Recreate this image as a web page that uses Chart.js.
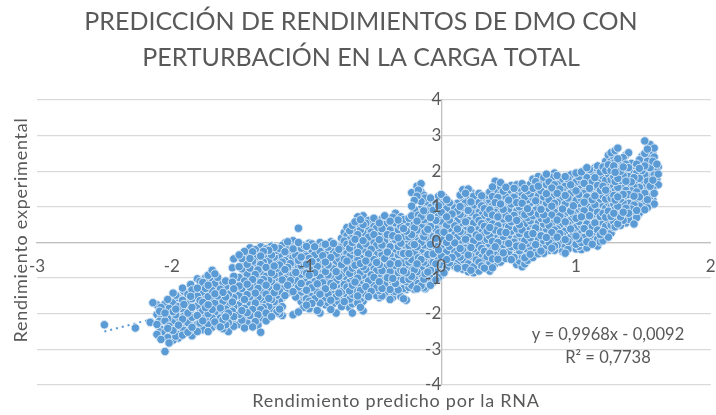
<!DOCTYPE html>
<html>
<head>
  <title>Predicción de rendimientos</title>
  <script src="https://cdn.jsdelivr.net/npm/chart.js"></script>
  <style>
    body { margin: 0; background: #fff; }
  </style>
</head>
<body>
  <canvas id="scatterChart" width="716" height="415"></canvas>

  <script>
    // Values, one x column with its y values
    const predictedX = [
      -2.5,-2.27,-2.16,-2.14,-2.11,-2.08,-2.05,-2.02,-1.99,-1.95,-1.92,-1.88,-1.85,-1.81,-1.77,-1.73,-1.7,-1.66,
      -1.62,-1.58,-1.54,-1.5,-1.46,-1.42,-1.38,-1.34,-1.3,-1.26,-1.22,-1.18,-1.14,-1.1,-1.06,-1.02,-0.98,-0.94,
      -0.9,-0.86,-0.82,-0.78,-0.74,-0.7,-0.66,-0.62,-0.58,-0.54,-0.5,-0.46,-0.42,-0.38,-0.34,-0.3,-0.26,-0.22,
      -0.18,-0.15,-0.12,-0.08,-0.04,0,0.04,0.08,0.12,0.16,0.2,0.24,0.28,0.32,0.36,0.4,0.44,0.48,0.52,0.56,0.6,
      0.64,0.68,0.72,0.76,0.8,0.84,0.88,0.92,0.96,1,1.04,1.08,1.12,1.16,1.2,1.24,1.28,1.31,1.35,1.39,1.43,1.47,
      1.51,1.55,1.58,1.61
    ];
    const experimentalY = [
      [-2.31],[-2.4],[-2.24],[-1.69],
      [-1.75,-2.02,-2.3,-2.58],
      [-1.82,-2.12,-2.44,-2.72],
      [-1.72,-1.98,-2.2,-2.52,-3.06],
      [-1.85,-2.06,-2.35,-2.62,-2.82],
      [-1.42,-1.68,-1.94,-2.2,-2.47,-2.74],
      [-1.55,-1.8,-2.1,-2.32,-2.58,-2.68],
      [-1.28,-1.62,-1.86,-2.15,-2.42,-2.6],
      [-1.45,-1.7,-1.98,-2.25,-2.52],
      [-1.33,-1.58,-1.82,-2.1,-2.38,-2.62],
      [-1.02,-1.28,-1.5,-1.78,-2.05,-2.3,-2.5],
      [-1.12,-1.42,-1.68,-1.92,-2.2,-2.45],
      [-0.92,-1.2,-1.52,-1.75,-2,-2.28,-2.5],
      [-0.78,-1.05,-1.35,-1.6,-1.88,-2.12,-2.38],
      [-0.98,-1.25,-1.5,-1.78,-2.03,-2.32],
      [-1.12,-1.4,-1.65,-1.9,-2.17,-2.42],
      [-1.18,-1.45,-1.72,-1.98,-2.25,-2.5],
      [-0.46,-0.95,-1.3,-1.55,-1.8,-2.08,-2.35],
      [-0.35,-0.68,-0.98,-1.22,-1.48,-1.75,-2.02,-2.3],
      [-0.25,-0.55,-0.8,-1.08,-1.35,-1.6,-1.85,-2.12,-2.4],
      [-0.15,-0.45,-0.72,-0.98,-1.25,-1.52,-1.78,-2.05,-2.3],
      [-0.2,-0.42,-0.68,-0.9,-1.15,-1.42,-1.7,-1.95,-2.22],
      [-0.12,-0.38,-0.62,-0.88,-1.12,-1.38,-1.62,-1.88,-2.12,-2.52],
      [-0.18,-0.45,-0.7,-0.95,-1.2,-1.45,-1.72,-1.98,-2.2],
      [-0.1,-0.35,-0.6,-0.85,-1.1,-1.35,-1.6,-1.85,-2.08],
      [-0.22,-0.48,-0.72,-0.98,-1.25,-1.48,-1.72,-1.95],
      [-0.08,-0.3,-0.55,-0.8,-1.05,-1.3,-1.55,-1.8,-2.05],
      [0.02,-0.2,-0.45,-0.7,-0.92,-1.2,-1.42],
      [0.05,-0.18,-0.42,-0.65,-0.9,-1.12,-1.38,-2.03],
      [0.4,0,-0.25,-0.5,-0.72,-0.98,-1.25,-1.48,-1.95],
      [-0.08,-0.32,-0.58,-0.8,-1.05,-1.3,-1.55,-1.82],
      [-0.02,-0.22,-0.45,-0.7,-0.92,-1.18,-1.42,-1.65,-1.86],
      [-0.12,-0.35,-0.62,-0.85,-1.1,-1.32,-1.58],
      [0,-0.25,-0.48,-0.72,-0.98,-1.22,-1.45,-1.7,-1.98],
      [-0.05,-0.32,-0.55,-0.82,-1.05,-1.3,-1.55,-1.75],
      [0.02,-0.18,-0.42,-0.68,-0.9,-1.15,-1.4,-1.62,-1.88],
      [-0.1,-0.32,-0.58,-0.82,-1.08,-1.3,-1.52,-1.98],
      [0.12,-0.12,-0.38,-0.62,-0.88,-1.12,-1.38,-1.6,-1.8],
      [0.42,0.2,-0.05,-0.3,-0.52,-0.78,-1,-1.25,-1.5,-1.75],
      [0.48,0.25,0,-0.22,-0.48,-0.72,-0.95,-1.2,-1.45,-1.72,-1.98],
      [0.72,0.45,0.22,-0.02,-0.28,-0.5,-0.78,-1,-1.25,-1.5,-1.7],
      [0.75,0.5,0.28,0.05,-0.2,-0.45,-0.68,-0.92,-1.18,-1.42,-1.65,-1.92],
      [0.62,0.38,0.15,-0.1,-0.32,-0.58,-0.82,-1.08,-1.3,-1.52],
      [0.68,0.45,0.22,0,-0.25,-0.48,-0.72,-0.98,-1.2,-1.42],
      [0.55,0.3,0.08,-0.15,-0.4,-0.62,-0.88,-1.1,-1.35,-1.55],
      [0.75,0.5,0.28,0.05,-0.22,-0.45,-0.7,-0.95,-1.18,-1.42],
      [0.6,0.35,0.12,-0.12,-0.35,-0.6,-0.82,-1.08,-1.32,-1.6],
      [0.82,0.55,0.3,0.08,-0.18,-0.42,-0.65,-0.9,-1.15,-1.38],
      [0.72,0.45,0.2,-0.02,-0.28,-0.52,-0.78,-1.02,-1.28,-1.52],
      [0.55,0.32,0.1,-0.15,-0.38,-0.62,-0.85,-1.1,-1.32,-1.62],
      [1.4,1.02,0.75,0.48,0.22,0,-0.22,-0.48,-0.72,-0.95,-1.2],
      [1.58,1.3,0.85,0.6,0.35,0.12,-0.12,-0.35,-0.6,-0.82,-1.08,-1.3],
      [1.65,1.42,1.15,0.95,0.72,0.48,0.25,0,-0.25,-0.48,-0.72,-0.95,-1.22],
      [1.25,1.02,0.8,0.55,0.3,0.08,-0.15,-0.4,-0.62,-0.88,-1.1,-1.3],
      [1.25,0.98,0.7,0.45,0.2,-0.05,-0.28,-0.52,-0.78,-1,-1.2],
      [1.1,0.88,0.62,0.38,0.12,-0.1,-0.35,-0.6,-0.82,-1.05],
      [1.35,1.1,0.85,0.6,0.35,0.1,-0.12,-0.38,-0.62,-0.92],
      [1.2,0.95,0.72,0.48,0.22,0,-0.25,-0.48,-0.7],
      [1.05,0.8,0.55,0.3,0.08,-0.18,-0.42,-0.62],
      [1.1,0.88,0.62,0.38,0.15,-0.1,-0.32,-0.58,-0.72],
      [1.48,1.25,0.98,0.72,0.48,0.25,0,-0.22,-0.48,-0.75],
      [1.5,1.22,0.9,0.62,0.4,0.15,-0.1,-0.35,-0.6,-0.82],
      [1.3,1.05,0.8,0.55,0.3,0.05,-0.18,-0.42,-0.68,-0.85],
      [1.38,1.12,0.85,0.62,0.38,0.15,-0.08,-0.32,-0.55,-0.8],
      [1.22,0.95,0.7,0.45,0.22,-0.02,-0.25,-0.5,-0.72],
      [1.42,1.18,0.92,0.68,0.42,0.18,-0.05,-0.3,-0.55,-0.8],
      [1.72,1.4,1.12,0.85,0.6,0.35,0.12,-0.12,-0.35,-0.6],
      [1.68,1.35,1.08,0.8,0.55,0.3,0.08,-0.15,-0.38,-0.55],
      [1.55,1.28,1.02,0.75,0.5,0.28,0.02,-0.22,-0.45],
      [1.6,1.32,1.08,0.82,0.58,0.32,0.1,-0.12,-0.35,-0.48],
      [1.62,1.38,1.12,0.88,0.62,0.38,0.12,-0.1,-0.35,-0.62],
      [1.65,1.38,1.1,0.85,0.6,0.35,0.12,-0.12,-0.38,-0.68],
      [1.45,1.2,0.95,0.7,0.45,0.22,-0.02,-0.25,-0.5],
      [1.78,1.52,1.25,1,0.75,0.5,0.25,0.02,-0.22,-0.42],
      [1.85,1.58,1.3,1.05,0.8,0.55,0.3,0.08,-0.15,-0.32],
      [1.82,1.55,1.28,1.02,0.78,0.52,0.28,0.05,-0.18,-0.3],
      [1.7,1.45,1.2,0.95,0.7,0.48,0.22,0,-0.22],
      [1.95,1.62,1.35,1.1,0.85,0.6,0.35,0.12,-0.1,-0.22],
      [1.75,1.5,1.25,1,0.75,0.5,0.25,0.05,-0.18],
      [1.85,1.58,1.32,1.08,0.82,0.58,0.32,0.08,-0.3],
      [1.9,1.62,1.38,1.12,0.88,0.62,0.38,0.15,-0.08],
      [1.95,1.7,1.45,1.18,0.92,0.68,0.42,0.18,-0.05,-0.18],
      [1.98,1.72,1.48,1.22,0.98,0.72,0.48,0.25,0,-0.2],
      [2.1,1.82,1.55,1.28,1.02,0.78,0.52,0.28,0.02,-0.15],
      [1.95,1.7,1.45,1.2,0.95,0.7,0.45,0.2,-0.05],
      [2.15,1.88,1.6,1.35,1.1,0.85,0.6,0.35,0.1,-0.1],
      [2.12,1.85,1.58,1.3,1.05,0.82,0.55,0.3,0.05],
      [2.45,2.18,1.92,1.65,1.38,1.12,0.88,0.62,0.38,0.15],
      [2.4,2.15,1.85,1.6,1.32,1.08,0.82,0.58,0.42],
      [2.65,2.35,2.05,1.8,1.55,1.28,1.02,0.78,0.52],
      [2.38,2.12,1.88,1.62,1.35,1.1,0.85,0.62],
      [2.52,2.1,1.85,1.6,1.35,1.1,0.82,0.65],
      [2.05,1.82,1.55,1.3,1.05,0.8,0.52],
      [2.32,2.08,1.8,1.55,1.28,1.02,0.82],
      [2.85,2.5,2.15,1.9,1.62,1.38,1.12,0.92],
      [2.75,2.45,2.1,1.85,1.58,1.3,1.05],
      [2.65,2.4,2.15,1.9,1.62,1.38,1.08],
      [2.12,1.92,1.62]
    ];
    // Second pass of the cloud, the points lying between the columns above
    const predictedX2 = [
      -2.09,-2.03,-1.97,-1.91,-1.86,-1.79,-1.75,-1.68,-1.64,-1.6,-1.55,-1.48,-1.44,-1.4,-1.36,-1.32,-1.28,-1.24,
      -1.2,-1.16,-1.12,-1.08,-1.04,-1,-0.96,-0.92,-0.88,-0.84,-0.8,-0.76,-0.72,-0.68,-0.64,-0.6,-0.56,-0.52,-0.48,
      -0.44,-0.4,-0.36,-0.32,-0.28,-0.24,-0.2,-0.17,-0.13,-0.1,-0.06,-0.02,0.02,0.06,0.1,0.14,0.18,0.22,0.26,0.3,
      0.34,0.38,0.42,0.46,0.5,0.54,0.58,0.62,0.66,0.7,0.74,0.78,0.82,0.86,0.9,0.94,0.98,1.02,1.06,1.1,1.14,1.18,
      1.22,1.26,1.29,1.33,1.37,1.41,1.45,1.49,1.53,1.57,1.6
    ];
    const experimentalY2 = [
      [-1.93,-2.21,-2.51],
      [-1.6,-2.14,-2.41,-2.67],
      [-1.48,-1.87,-2.03,-2.36,-2.63],
      [-1.37,-1.74,-2.07,-2.29,-2.47],
      [-1.18,-1.51,-1.89,-2.16,-2.44],
      [-1.09,-1.37,-1.63,-1.97,-2.26,-2.41],
      [-0.99,-1.29,-1.59,-1.83,-2.11,-2.37],
      [-0.88,-1.16,-1.44,-1.71,-1.96,-2.23],
      [-1.31,-1.58,-1.84,-2.12,-2.37],
      [-1.08,-1.24,-1.53,-1.87,-2.09,-2.31],
      [-0.71,-1.11,-1.39,-1.67,-1.93,-2.17],
      [-0.45,-0.74,-1.13,-1.29,-1.56,-1.91,-2.18],
      [-0.31,-0.61,-0.89,-1.17,-1.46,-1.69,-1.97,-2.26],
      [-0.26,-0.53,-0.79,-1.04,-1.33,-1.61,-1.88,-2.13,-2.37],
      [-0.31,-0.51,-0.77,-1.01,-1.29,-1.54,-1.79,-2.03,-2.32],
      [-0.25,-0.55,-0.81,-1.04,-1.28,-1.53,-1.83,-2.07],
      [-0.22,-0.52,-0.76,-1.06,-1.27,-1.57,-1.79,-2.11],
      [-0.14,-0.41,-0.66,-0.91,-1.17,-1.41,-1.66,-1.89],
      [-0.17,-0.37,-0.63,-0.88,-1.14,-1.37,-1.61,-1.87,-2],
      [-0.01,-0.26,-0.51,-0.76,-1.02,-1.25,-1.49],
      [-0.11,-0.34,-0.59,-0.83,-1.07,-1.31],
      [-0.08,-0.36,-0.58,-0.84,-1.06,-1.31,-1.53],
      [-0.16,-0.41,-0.65,-0.89,-1.15,-1.39,-1.66],
      [-0.11,-0.38,-0.61,-0.86,-1.11,-1.34,-1.58,-1.76],
      [-0.04,-0.29,-0.54,-0.77,-1.03,-1.27,-1.51,-1.71],
      [-0.17,-0.42,-0.67,-0.93,-1.16,-1.39,-1.62,-1.91],
      [-0.09,-0.37,-0.61,-0.86,-1.13,-1.37,-1.6],
      [-0.13,-0.38,-0.63,-0.91,-1.19,-1.45,-1.69],
      [-0.03,-0.26,-0.49,-0.74,-0.97,-1.22,-1.46,-1.71],
      [-0.19,-0.45,-0.71,-0.95,-1.19,-1.42,-1.67],
      [0.28,0.04,-0.21,-0.47,-0.7,-0.94,-1.18,-1.43,-1.66],
      [0.33,0.08,-0.16,-0.39,-0.63,-0.87,-1.11,-1.36,-1.59,-1.83],
      [0.58,0.31,0.09,-0.14,-0.37,-0.64,-0.86,-1.11,-1.34,-1.61],
      [0.64,0.35,0.13,-0.11,-0.36,-0.59,-0.84,-1.08,-1.35,-1.59,-1.82],
      [0.54,0.21,-0.04,-0.27,-0.52,-0.76,-1.01,-1.24,-1.48],
      [0.56,0.29,0.06,-0.19,-0.41,-0.67,-0.91,-1.14,-1.37],
      [0.41,0.17,-0.08,-0.31,-0.56,-0.79,-1.03,-1.27,-1.49],
      [0.66,0.39,0.16,-0.07,-0.33,-0.54,-0.79,-1.04,-1.29,-1.5],
      [0.46,0.22,-0.03,-0.27,-0.5,-0.74,-0.99,-1.25,-1.47],
      [0.71,0.44,0.19,-0.04,-0.29,-0.53,-0.77,-1.01,-1.24,-1.54],
      [0.63,0.36,0.13,-0.11,-0.34,-0.59,-0.84,-1.08,-1.33],
      [0.64,0.39,0.16,-0.07,-0.31,-0.57,-0.8,-1.05,-1.29,-1.58],
      [0.68,0.41,0.16,-0.09,-0.31,-0.55,-0.79,-1.03,-1.26],
      [1.18,0.93,0.66,0.41,0.18,-0.06,-0.29,-0.54,-0.77,-1.01,-1.31],
      [1.47,1.21,0.77,0.53,0.29,0.04,-0.19,-0.43,-0.66,-0.9,-1.15],
      [1.33,0.89,0.64,0.39,0.16,-0.07,-0.31,-0.55,-0.79,-1.03,-1.27],
      [1.13,0.88,0.63,0.37,0.14,-0.09,-0.34,-0.59,-0.83,-1.06],
      [1.17,0.91,0.66,0.41,0.16,-0.08,-0.32,-0.56,-0.81,-1.12],
      [1.3,1.03,0.77,0.52,0.27,0.03,-0.21,-0.45,-0.71,-0.98],
      [1.28,1.02,0.78,0.53,0.29,0.04,-0.19,-0.44,-0.67,-0.85],
      [1.12,0.87,0.63,0.39,0.14,-0.11,-0.34,-0.57],
      [0.97,0.72,0.47,0.23,-0.01,-0.26,-0.49,-0.67],
      [1.33,1.01,0.79,0.54,0.31,0.07,-0.17,-0.41,-0.66],
      [1.38,1.11,0.84,0.58,0.33,0.09,-0.16,-0.41,-0.7],
      [1.41,1.14,0.85,0.59,0.36,0.11,-0.14,-0.38,-0.63,-0.78],
      [1.21,0.96,0.71,0.47,0.21,-0.02,-0.25,-0.49,-0.75],
      [1.31,1.03,0.78,0.53,0.29,0.06,-0.17,-0.41,-0.66],
      [1.33,1.08,0.82,0.56,0.32,0.09,-0.15,-0.4,-0.64],
      [1.56,1.29,1.03,0.77,0.52,0.27,0.03,-0.21,-0.46,-0.71],
      [1.52,1.26,0.98,0.72,0.47,0.23,0,-0.24,-0.47],
      [1.44,1.17,0.93,0.66,0.41,0.17,-0.06,-0.29,-0.42],
      [1.47,1.19,0.93,0.68,0.44,0.2,-0.03,-0.26],
      [1.52,1.27,1.01,0.76,0.51,0.25,0.01,-0.22,-0.42],
      [1.53,1.25,1,0.75,0.5,0.25,0.01,-0.23,-0.52],
      [1.52,1.28,1.03,0.78,0.53,0.29,0.05,-0.18,-0.43,-0.6],
      [1.63,1.37,1.11,0.85,0.61,0.37,0.13,-0.11,-0.33],
      [1.71,1.44,1.17,0.91,0.66,0.41,0.18,-0.06,-0.27],
      [1.72,1.45,1.19,0.93,0.68,0.43,0.19,-0.03,-0.24],
      [1.92,1.63,1.37,1.11,0.87,0.63,0.38,0.14,-0.09],
      [1.83,1.53,1.27,1.02,0.77,0.53,0.28,0.05,-0.16],
      [1.88,1.63,1.38,1.13,0.88,0.63,0.38,0.15,-0.08],
      [1.68,1.45,1.19,0.94,0.69,0.44,0.2,-0.04,-0.25],
      [1.78,1.51,1.25,1,0.75,0.51,0.26,0.03,-0.19],
      [1.8,1.54,1.28,1.03,0.78,0.53,0.28,0.06,-0.13],
      [1.85,1.6,1.35,1.09,0.84,0.59,0.35,0.1,-0.11],
      [2,1.66,1.38,1.13,0.89,0.64,0.39,0.14,-0.08],
      [2.05,1.77,1.52,1.26,1,0.75,0.5,0.26,0.03],
      [2.1,1.82,1.57,1.31,1.06,0.8,0.55,0.3,0.06],
      [1.98,1.72,1.46,1.22,0.97,0.73,0.47,0.22,0.02],
      [2.28,2.02,1.75,1.47,1.22,0.96,0.71,0.46,0.21],
      [2.52,2.28,2.02,1.76,1.5,1.24,1,0.73,0.49,0.26],
      [2.58,2.26,1.97,1.71,1.45,1.19,0.93,0.68,0.44],
      [2.28,2,1.74,1.48,1.22,0.97,0.72,0.48],
      [2.45,2.2,1.96,1.72,1.46,1.2,0.96,0.72,0.55],
      [2.22,1.95,1.7,1.45,1.2,0.94,0.66],
      [2.2,1.95,1.68,1.42,1.17,0.9,0.7],
      [2.42,2.02,1.76,1.5,1.25,1],
      [2.62,2.28,2,1.72,1.46,1.2,0.98],
      [2.55,2.28,2.02,1.75,1.5,1.2],
      [2.2,2,1.78]
    ];
    // Dotted trendline ends
    const trendX = [-2.5, 1.63];
    const trendY = [-2.5, 1.62];

    const titleLines = ['PREDICCIÓN DE RENDIMIENTOS DE DMO CON', 'PERTURBACIÓN EN LA CARGA TOTAL'];
    const xAxisLabel = 'Rendimiento predicho por la RNA';
    const yAxisLabel = 'Rendimiento experimental';
    const equationLines = ['y = 0,9968x - 0,0092', 'R² = 0,7738'];

    const textColor = '#595959';
    const fontName = 'Lato, Carlito, sans-serif';

    const points = [];
    predictedX.forEach((x, i) => {
      experimentalY[i].forEach(y => points.push({ x: x, y: y }));
    });
    predictedX2.forEach((x, i) => {
      experimentalY2[i].forEach(y => points.push({ x: x, y: y }));
    });

    // Paint the points out of column order so the overlaps do not form rows of scales
    const paintOrder = points.map((p, i) => ({ p: p, key: (i * 617) % 1009 }));
    paintOrder.sort((a, b) => a.key - b.key);
    const paintedPoints = paintOrder.map(item => item.p);

    // Axis titles and the trendline label sit at free positions, so they are drawn here
    const freeText = {
      id: 'freeText',
      afterLayout(chart) {
        // Centre the title on the page, not on the padded area
        chart.titleBlock.left = 6;
        chart.titleBlock.right = 716;
      },
      afterDraw(chart) {
        const ctx = chart.ctx;
        ctx.save();
        ctx.fillStyle = textColor;
        ctx.textAlign = 'center';
        ctx.textBaseline = 'middle';
        ctx.font = '16.5px ' + fontName;
        ctx.fillText(equationLines[0], 608, 335);
        ctx.fillText(equationLines[1], 608, 358);
        ctx.font = '18px ' + fontName;
        ctx.letterSpacing = '0.74px';
        ctx.fillText(xAxisLabel, 396, 401);
        ctx.translate(21, 230);
        ctx.rotate(-Math.PI / 2);
        ctx.fillText(yAxisLabel, 0, 0);
        ctx.restore();
      }
    };

    // The tick labels hang on the zero lines, they should not shrink the plot
    function noLabelMargin(scale) {
      scale.paddingLeft = 0;
      scale.paddingRight = 0;
      scale.paddingTop = 0;
      scale.paddingBottom = 0;
    }

    new Chart(document.getElementById('scatterChart').getContext('2d'), {
      type: 'scatter',
      data: {
        datasets: [
          {
            label: 'Rendimiento',
            data: paintedPoints,
            order: 1,
            pointRadius: 4.2,
            pointBorderWidth: 1,
            pointBackgroundColor: '#5B9BD5',
            pointBorderColor: '#D8E7F5'
          },
          {
            label: 'Tendencia',
            data: trendX.map((x, i) => ({ x: x, y: trendY[i] })),
            order: 2,
            showLine: true,
            pointRadius: 0,
            borderColor: '#5B9BD5',
            borderWidth: 2,
            borderDash: [2, 4]
          }
        ]
      },
      options: {
        responsive: false,
        animation: false,
        layout: { padding: { left: 37, right: 5, top: 0, bottom: 30 } },
        plugins: {
          legend: { display: false },
          tooltip: { enabled: false },
          title: {
            display: true,
            text: titleLines,
            color: textColor,
            font: { family: fontName, size: 25, weight: 'normal', lineHeight: 1.44 },
            padding: { top: 4, bottom: 24 }
          }
        },
        scales: {
          x: {
            type: 'linear',
            min: -3,
            max: 2,
            position: { y: 0 },
            afterFit: noLabelMargin,
            grid: { display: false },
            border: { color: '#BFBFBF', width: 1.3 },
            ticks: { stepSize: 1, color: textColor, font: { family: fontName, size: 17 }, padding: 6, z: 1 }
          },
          y: {
            type: 'linear',
            min: -4,
            max: 4,
            position: { x: 0 },
            afterFit: noLabelMargin,
            grid: { color: '#D9D9D9', lineWidth: 1.3, drawTicks: false },
            border: { color: '#BFBFBF', width: 1.3 },
            ticks: { stepSize: 1, color: textColor, font: { family: fontName, size: 17 }, padding: 26, z: 1 }
          }
        }
      },
      plugins: [freeText]
    });
  </script>
</body>
</html>
